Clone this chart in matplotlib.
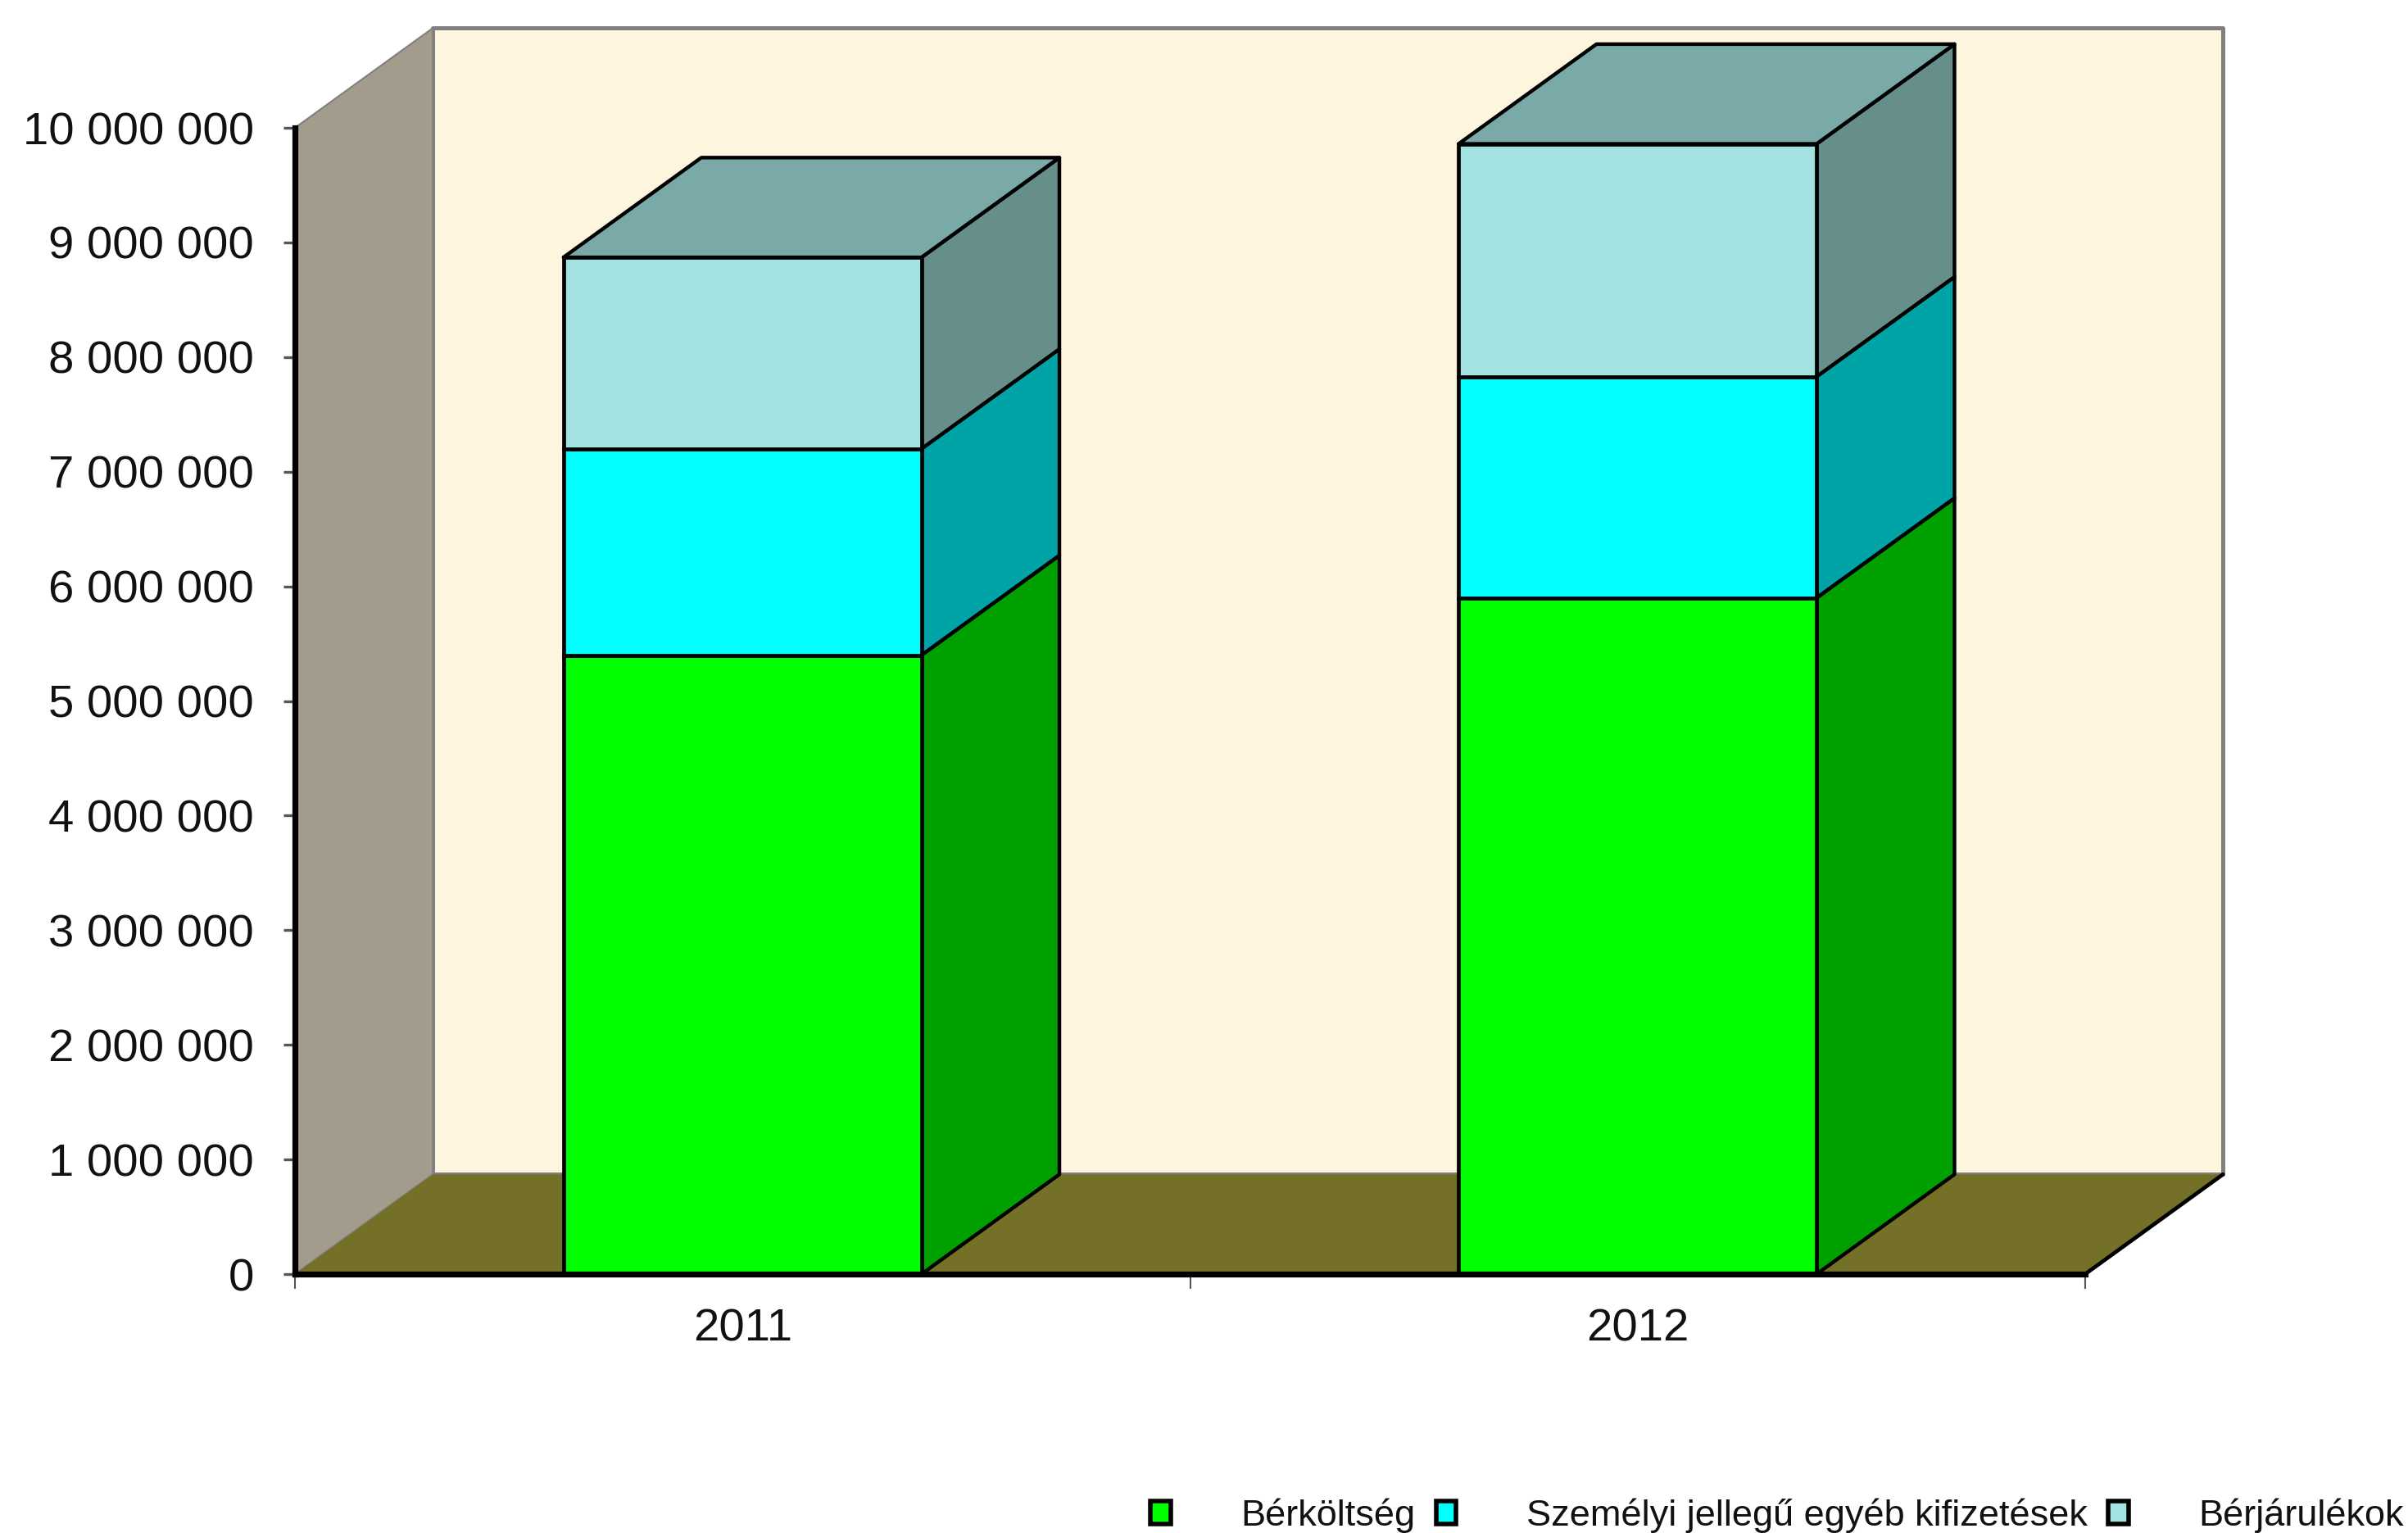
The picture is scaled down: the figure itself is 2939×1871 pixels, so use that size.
import matplotlib
matplotlib.use('Agg')
import matplotlib.pyplot as plt
from matplotlib.patches import Patch, Polygon

plt.rcParams['font.family'] = ['Liberation Sans', 'DejaVu Sans']

years = ['2011', '2012']
series_names = ['Bérköltség', 'Személyi jellegű egyéb kifizetések', 'Bérjárulékok']
berkoltseg = [5400000, 5900000]
szemelyi = [1800000, 1930000]
berjarulekok = [1670000, 2030000]
y_ticks = [0, 1000000, 2000000, 3000000, 4000000, 5000000, 6000000, 7000000, 8000000, 9000000, 10000000]
y_labels = ['0', '1 000 000', '2 000 000', '3 000 000', '4 000 000', '5 000 000',
            '6 000 000', '7 000 000', '8 000 000', '9 000 000', '10 000 000']

front_cols = ['#00FF00', '#00FFFF', '#A2E2E0']
side_cols = ['#00A000', '#00A3A6', '#668F8C']
top_col = '#7AAAA8'
wall_col = '#FDF5DD'
left_wall_col = '#A39B8B'
floor_col = '#757027'

W, H = 2939, 1871
depth_x = 0.154      # box depth in category units
depth_y = 870000     # box depth in value units
bar_w = 0.4

fig = plt.figure(figsize=(W / 100, H / 100), dpi=100)
ax = fig.add_axes([360 / W, 1 - 1555 / H, (2545 - 360) / W, (1555 - 156) / H])
ax.set_xlim(0, 2)
ax.set_ylim(0, 10000000)
ax.patch.set_visible(False)


def face(pts, col, edge='none', lw=0, z=1):
    ax.add_patch(Polygon(pts, closed=True, facecolor=col, edgecolor=edge, linewidth=lw,
                         clip_on=False, zorder=z, joinstyle='round'))


ymax = 10000000
# walls and floor
face([(depth_x, depth_y), (2 + depth_x, depth_y), (2 + depth_x, ymax + depth_y), (depth_x, ymax + depth_y)],
     wall_col, '#808080', 3.6, 1)
face([(0, 0), (depth_x, depth_y), (depth_x, ymax + depth_y), (0, ymax)], left_wall_col, '#808080', 1.5, 2)
face([(0, 0), (2, 0), (2 + depth_x, depth_y), (depth_x, depth_y)], floor_col, z=3)
ax.plot([2, 2 + depth_x], [0, depth_y], color='black', lw=3.4, clip_on=False, zorder=4, solid_capstyle='round')

# stacked boxes
stack = [berkoltseg, szemelyi, berjarulekok]
for i in range(len(years)):
    x = i + 0.5
    right = x + bar_w / 2
    left = x - bar_w / 2
    bottom = 0
    for k, vals in enumerate(stack):
        ax.bar(x, vals[i], bar_w, bottom=bottom, color=front_cols[k], edgecolor='black', linewidth=3.4, zorder=6)
        top = bottom + vals[i]
        face([(right, bottom), (right + depth_x, bottom + depth_y), (right + depth_x, top + depth_y), (right, top)],
             side_cols[k], 'black', 3.2, 5)
        bottom = top
    face([(left, bottom), (right, bottom), (right + depth_x, bottom + depth_y), (left + depth_x, bottom + depth_y)],
         top_col, 'black', 3.2, 5)

for s in ['top', 'right']:
    ax.spines[s].set_visible(False)
for s in ['left', 'bottom']:
    ax.spines[s].set_linewidth(5.2)
    ax.spines[s].set_zorder(7)

ax.set_yticks(y_ticks)
ax.set_yticklabels(y_labels)
ax.tick_params(axis='y', length=10, width=2.4, color='#555555', labelsize=40.5, pad=26, labelcolor='#111111')
ax.set_xticks([0, 1, 2])
ax.set_xticklabels(['', '', ''])
ax.tick_params(axis='x', which='major', length=13, width=1.5, color='#555555')
ax.set_xticks([0.5, 1.5], minor=True)
ax.set_xticklabels(years, minor=True)
ax.tick_params(axis='x', which='minor', length=0, labelsize=40.5, pad=30, labelcolor='#111111')

handles = [Patch(facecolor=c, edgecolor='black', linewidth=4) for c in front_cols]
fig.legend(handles, series_names, loc='lower right', bbox_to_anchor=(2934 / W, 1 - 1871 / H), ncol=3, frameon=False,
           fontsize=32.5, labelcolor='#111111', borderpad=0, borderaxespad=0, handlelength=0.55, handleheight=0.55,
           handletextpad=1.9, columnspacing=0.55)

fig.savefig('out.png', dpi=100, facecolor='white')
